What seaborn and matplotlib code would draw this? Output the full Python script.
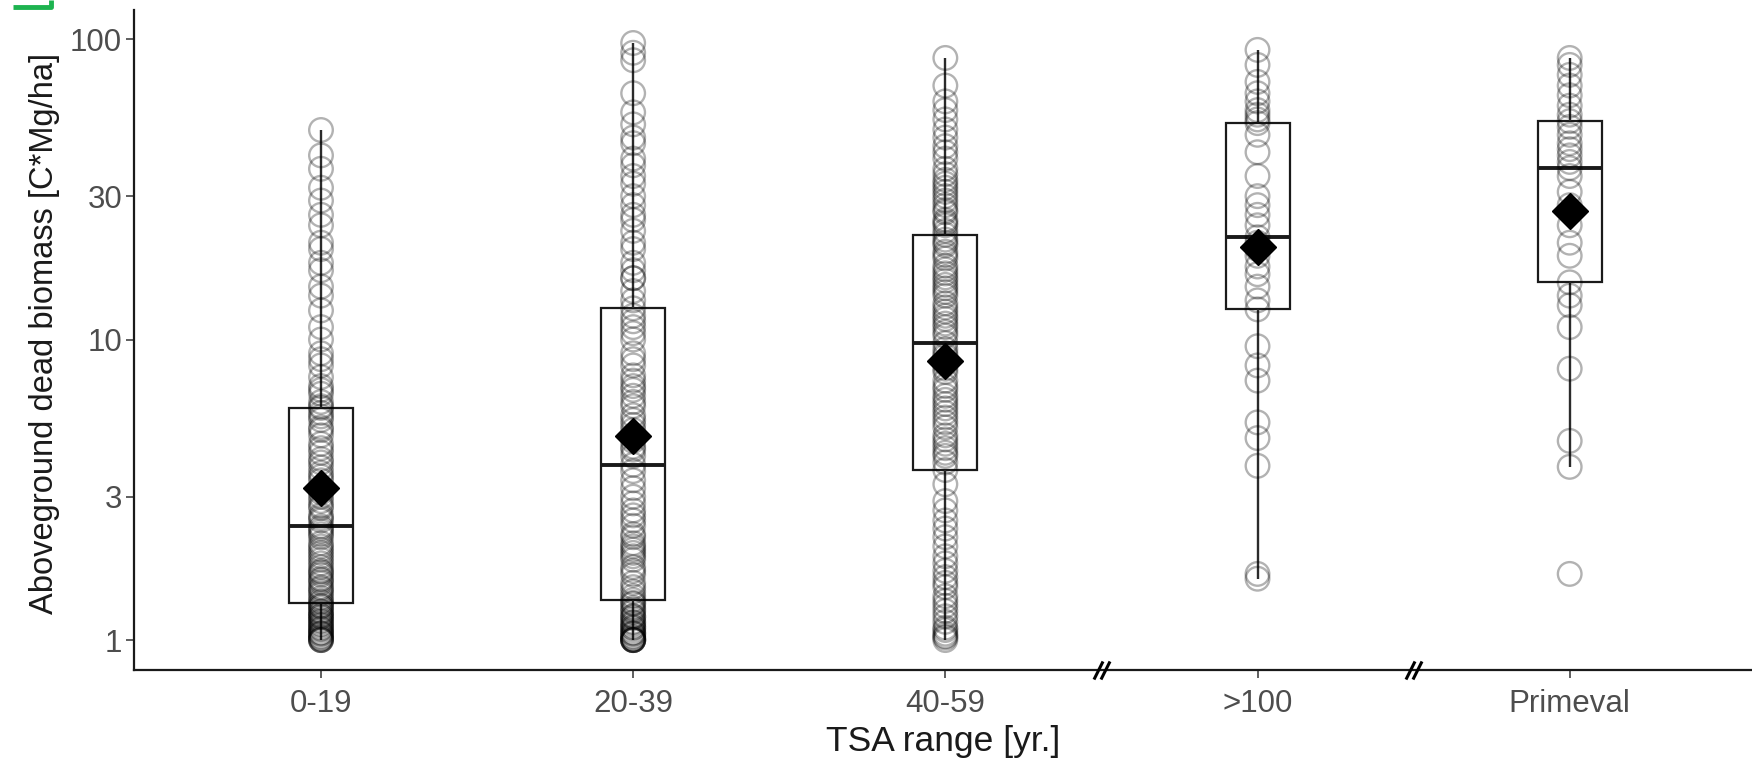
import pandas as pd
import numpy as np
import matplotlib.pyplot as plt
import matplotlib.transforms as mtransforms
from matplotlib.lines import Line2D
import seaborn as sns

# Datos (biomasa muerta aerea, C*Mg/ha)
categorias = ["0-19", "20-39", "40-59", ">100", "Primeval"]

tsa_0_19 = [1.0, 1.0, 1.0, 1.01, 1.02, 1.03, 1.05, 1.05, 1.06, 1.08, 1.09, 1.1, 1.12, 1.13,
            1.15, 1.16, 1.18, 1.2, 1.2, 1.22, 1.24, 1.25, 1.28, 1.3, 1.3,
            1.33,
            1.35, 1.38, 1.42, 1.45, 1.48, 1.5, 1.55, 1.58, 1.6, 1.65, 1.68, 1.7, 1.75, 1.8,
            1.85, 1.9, 1.95, 2.0, 2.05, 2.1, 2.2, 2.25, 2.3, 2.35,
            2.39,
            2.5, 2.55, 2.6, 2.75, 2.8, 2.9, 3.0, 3.1, 3.2, 3.4, 3.5, 3.6, 3.75, 3.9, 4.0,
            4.2, 4.35, 4.5, 4.8, 5.0, 5.1, 5.4, 5.55, 5.7,
            5.92,
            6.0, 6.2, 6.6, 6.8, 7.0, 7.5, 8.2, 8.6, 9.0, 10.0, 11.0, 12.5, 14.0, 15.0, 17.0,
            18.0, 20.0, 21.0, 24.0, 26.0, 29.0, 32.0, 37.0, 41.0, 49.8]

tsa_20_39 = [1.0, 1.0, 1.0, 1.0, 1.0, 1.01, 1.02, 1.03, 1.05, 1.05, 1.06, 1.08, 1.1, 1.1,
             1.12, 1.14, 1.15, 1.18, 1.2, 1.2, 1.24, 1.26, 1.28, 1.32, 1.33,
             1.36,
             1.4, 1.45, 1.5, 1.55, 1.65, 1.7, 1.75, 1.85, 1.9, 1.95, 2.0, 2.05, 2.1, 2.2,
             2.25, 2.4, 2.5, 2.6, 2.7, 2.85, 3.0, 3.2, 3.4, 3.65,
             3.83,
             4.1, 4.3, 4.4, 4.6, 4.8, 5.0, 5.2, 5.4, 5.6, 6.0, 6.2, 6.5, 6.8, 7.0, 7.3,
             7.6, 8.2, 8.6, 9.0, 10.0, 10.5, 11.0, 11.5, 12.0,
             12.7,
             13.5, 14.5, 16.0, 16.0, 17.0, 18.0, 20.0, 21.0, 23.0, 25.0, 26.0, 28.0, 30.0,
             33.0, 35.0, 38.0, 40.0, 45.0, 47.0, 52.0, 57.0, 66.0, 85.0, 90.0, 97.0]

tsa_40_59 = [1.0, 1.02, 1.03, 1.05, 1.08, 1.1, 1.15, 1.2, 1.25, 1.3, 1.35, 1.4, 1.5, 1.55,
             1.62, 1.7, 1.8, 1.9, 2.05, 2.2, 2.35, 2.5, 2.7, 2.9, 3.3,
             3.68,
             3.9, 4.1, 4.2, 4.35, 4.5, 4.65, 4.8, 5.1, 5.3, 5.5, 5.7, 5.9, 6.1, 6.3, 6.5,
             6.8, 7.0, 7.3, 7.8, 8.0, 8.3, 8.8, 9.0, 9.3,
             9.73,
             10.3, 10.6, 11.0, 11.3, 11.7, 12.0, 12.4, 12.8, 13.2, 14.0, 14.4, 14.8, 15.2,
             15.7, 16.1, 16.6, 17.1, 17.6, 18.6, 19.1, 19.6, 20.6, 21.0, 21.5,
             22.3,
             23.0, 24.0, 24.5, 25.0, 26.5, 27.0, 28.0, 29.0, 30.0, 31.0, 32.0, 33.0, 34.0,
             35.5, 37.0, 40.0, 42.0, 44.0, 47.0, 50.0, 54.0, 58.0, 62.0, 70.0, 86.5]

tsa_100 = [1.6, 1.66, 3.8, 4.7, 5.3, 7.3, 8.2, 9.5,
           12.6,
           13.5, 15.0, 16.5, 17.5, 19.0, 20.0, 21.0,
           21.9,
           24.0, 26.0, 28.0, 30.0, 35.0, 42.0, 48.0,
           52.5,
           54.0, 56.0, 58.0, 62.0, 66.0, 72.0, 82.0, 92.0]

primeval = [1.66, 3.77, 4.6, 8.0, 11.0, 13.0, 14.0,
            15.5,
            19.0, 21.0, 24.0, 28.0, 31.0, 35.0,
            37.2,
            39.0, 41.0, 43.0, 45.0, 48.0, 51.0,
            53.3,
            56.0, 60.0, 65.0, 70.0, 76.0, 82.0, 86.5]

y_ticks = [1, 3, 10, 30, 100]
y_labels = ["1", "3", "10", "30", "100"]
cortes = [2.5, 3.5]

valores = [tsa_0_19, tsa_20_39, tsa_40_59, tsa_100, primeval]
df = pd.concat(
    [pd.DataFrame({"TSA": c, "biomasa": v}) for c, v in zip(categorias, valores)],
    ignore_index=True
)

sns.set_theme(style="ticks")
plt.rcParams["font.family"] = ["Liberation Sans", "DejaVu Sans"]

fig = plt.figure(figsize=(17.52, 7.6), dpi=100)
ax = fig.add_axes([134 / 1752, 90 / 760, 1618 / 1752, 660 / 760])

sns.boxplot(
    data=df,
    x="TSA",
    y="biomasa",
    order=categorias,
    log_scale=True,
    width=0.205,
    color="white",
    linecolor="#1a1a1a",
    linewidth=1.6,
    showcaps=False,
    showfliers=False,
    medianprops={"linewidth": 2.8},
    whiskerprops={"color": "#2b2b2b", "linewidth": 1.7},
    showmeans=True,
    meanprops={"marker": "D", "markerfacecolor": "black",
               "markeredgecolor": "black", "markersize": 18, "zorder": 5},
    ax=ax
)

sns.stripplot(
    data=df,
    x="TSA",
    y="biomasa",
    order=categorias,
    jitter=False,
    size=17,
    color="black",
    facecolor="none",
    edgecolor="black",
    linewidth=1.7,
    alpha=0.3,
    ax=ax
)

ax.set_yticks(y_ticks)
ax.set_yticklabels(y_labels)
ax.yaxis.set_minor_locator(plt.NullLocator())
ax.set_ylim(0.795, 124.9)
ax.set_xlim(-0.599, 4.584)

sns.despine(ax=ax)
for s in ["left", "bottom"]:
    ax.spines[s].set_linewidth(1.6)
    ax.spines[s].set_color("#1a1a1a")

ax.tick_params(axis="both", length=5.5, width=1.1, color="#333333",
               labelsize=22.5, labelcolor="#4D4D4D", pad=3)
ax.tick_params(axis="x", pad=8)

ax.set_xlabel("TSA range [yr.]", fontsize=25.5, color="#1a1a1a")
ax.set_ylabel("Aboveground dead biomass [C*Mg/ha]", fontsize=23.5, color="#1a1a1a")
ax.xaxis.set_label_coords(0.5, -0.084)
ax.yaxis.set_label_coords(-0.0455, 0.51)

# marcas de corte del eje x
trans = mtransforms.blended_transform_factory(ax.transData, ax.transAxes)
for b in cortes:
    ax.plot([b - 0.011, b + 0.011], [0, 0], transform=trans,
            marker=[(-1, -2), (1, 2)], markersize=13, markeredgewidth=2.2,
            linestyle="none", color="black", clip_on=False, zorder=6)

# esquina verde del panel
fig.add_artist(Line2D([13 / 1752, 51 / 1752, 51 / 1752], [1 - 7 / 760, 1 - 7 / 760, 1.0],
                      transform=fig.transFigure, color="#1db34f", linewidth=3.5,
                      solid_capstyle="butt"))

fig.savefig("out.png", dpi=100, facecolor="white")
